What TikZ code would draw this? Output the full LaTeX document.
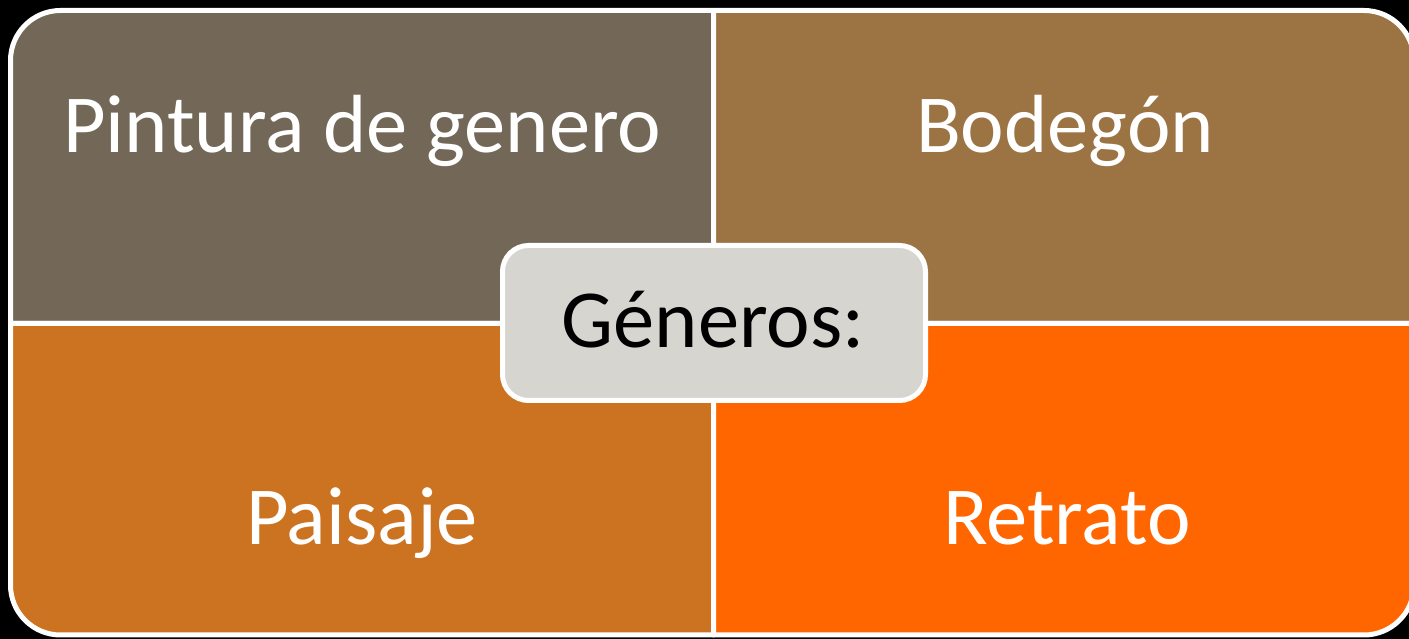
\documentclass[tikz,border=0pt]{standalone}
\usepackage{fontspec}
\setmainfont{Carlito}
\definecolor{qtl}{HTML}{736858}
\definecolor{qtr}{HTML}{9C7444}
\definecolor{qbl}{HTML}{CC7322}
\definecolor{qbr}{HTML}{FF6600}
\definecolor{qc}{HTML}{D6D5D0}
\begin{document}
\begin{tikzpicture}[x=1pt,y=1pt,
  quad/.style={draw=white,line width=5pt,line join=round},
  lab/.style={anchor=base,text=white,font=\fontsize{82.5}{99}\selectfont,inner sep=0pt},
  hub/.style={draw=white,line width=5pt,fill=qc,rounded corners=26pt,minimum width=423pt,minimum height=155pt,inner sep=0pt}]
\fill[black] (0,0) rectangle (1409,639);
\useasboundingbox (0,0) rectangle (1409,639);
\begin{scope}
\clip (0,0) rectangle (1409,639);
\filldraw[quad,fill=qtl] (713.5,315.5) -- (10.5,315.5) -- (10.5,578.5) arc[start angle=180,end angle=90,radius=50] -- (713.5,628.5) -- cycle;
\filldraw[quad,fill=qtr] (713.5,315.5) -- (713.5,628.5) -- (1364,628.5) arc[start angle=90,end angle=0,radius=50] -- (1414,315.5) -- cycle;
\filldraw[quad,fill=qbl] (713.5,315.5) -- (10.5,315.5) -- (10.5,54) arc[start angle=180,end angle=270,radius=50] -- (713.5,4) -- cycle;
\filldraw[quad,fill=qbr] (713.5,315.5) -- (1414,315.5) -- (1414,54) arc[start angle=0,end angle=-90,radius=50] -- (713.5,4) -- cycle;
\end{scope}
\node[lab] (pg) at (362,486) {Pintura de genero};
\node[lab] (bo) at (1065,486) {Bodegón};
\node[lab] (pa) at (362,94) {Paisaje};
\node[lab] (re) at (1067,94) {Retrato};
\node[hub] (ge) at (714,316) {};
\node[lab,text=black] (gt) at (713,291) {Géneros:};
\end{tikzpicture}
\end{document}
